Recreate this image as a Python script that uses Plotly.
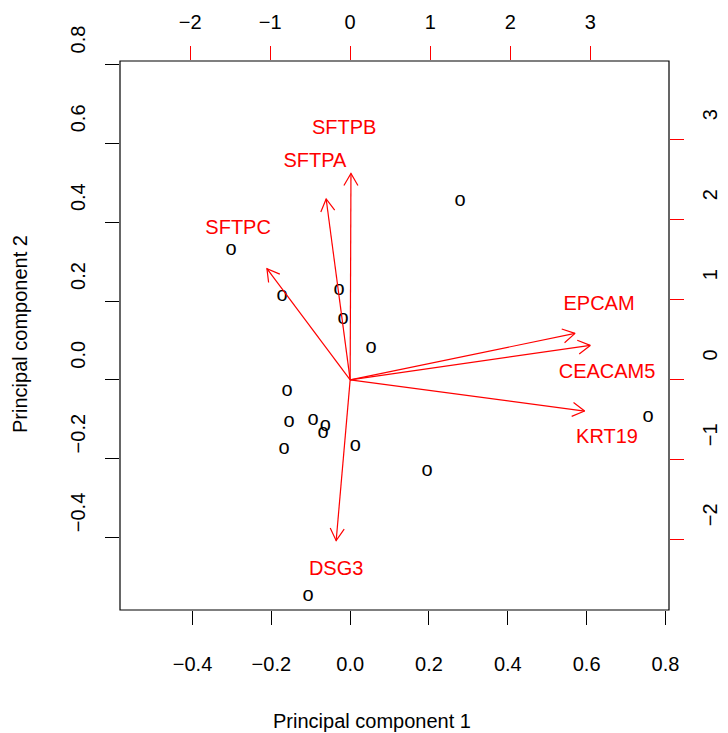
import math
import plotly.graph_objects as go

# ---- observation scores (primary axes: Principal component 1 / 2) ----
pc1 = [-0.302, 0.279, -0.173, -0.028, -0.018, 0.053, -0.160, -0.155,
       -0.094, -0.063, -0.069, -0.168, 0.013, 0.195, 0.756, -0.107]
pc2 = [0.329, 0.453, 0.212, 0.227, 0.154, 0.080, -0.029, -0.108,
       -0.103, -0.118, -0.136, -0.176, -0.169, -0.232, -0.095, -0.549]
obs_labels = ["o"] * len(pc1)

# ---- variable loadings (secondary axes: top / right) ----
var_names = ["SFTPB", "SFTPA", "SFTPC", "EPCAM", "CEACAM5", "KRT19", "DSG3"]
load_x = [0.01, -0.30, -1.04, 2.81, 3.00, 2.93, -0.175]
load_y = [2.58, 2.26, 1.39, 0.58, 0.43, -0.39, -2.01]
label_x = [-0.075, -0.44, -1.40, 3.11, 3.21, 3.21, -0.175]
label_y = [3.13, 2.72, 1.88, 0.93, 0.08, -0.73, -2.38]

# ---- ticks ----
pc_ticks = [-0.4, -0.2, 0.0, 0.2, 0.4, 0.6, 0.8]
pc_ticktext = [("−" if v < 0 else "") + f"{abs(v):.1f}" for v in pc_ticks]
load_ticks = [-2, -1, 0, 1, 2, 3]
load_ticktext = [("−" if v < 0 else "") + str(abs(v)) for v in load_ticks]

lim = [-0.584, 0.809]
ratio = 4.925
lim2 = [lim[0] * ratio, lim[1] * ratio]

FONT = "Liberation Sans, Arial, Helvetica, sans-serif"
RED = "#ff0000"

fig = go.Figure()

# observations drawn as "o" text labels
fig.add_trace(go.Scatter(
    x=pc1, y=pc2, mode="text", text=obs_labels,
    textposition="middle center",
    textfont=dict(family=FONT, size=20, color="black"),
    hoverinfo="skip", showlegend=False,
))

# arrows with open V heads
head = 0.175
ang = math.radians(30)
ax, ay = [], []
for x, y in zip(load_x, load_y):
    ax += [0, x, None]
    ay += [0, y, None]
    a = math.atan2(y, x)
    ax += [x - head * math.cos(a + ang), x, x - head * math.cos(a - ang), None]
    ay += [y - head * math.sin(a + ang), y, y - head * math.sin(a - ang), None]
fig.add_trace(go.Scatter(
    x=ax, y=ay, mode="lines", line=dict(color=RED, width=1.2),
    xaxis="x2", yaxis="y2", hoverinfo="skip", showlegend=False,
))
fig.add_trace(go.Scatter(
    x=label_x, y=label_y, mode="text", text=var_names,
    textposition="middle center",
    textfont=dict(family=FONT, size=20, color=RED),
    xaxis="x2", yaxis="y2", hoverinfo="skip", showlegend=False,
))

common = dict(showgrid=False, zeroline=False, showline=False,
              ticks="outside", ticklen=14, tickwidth=1, automargin=False,
              tickfont=dict(family=FONT, size=20, color="black"))

fig.update_layout(
    width=728, height=733,
    margin=dict(l=112, r=67, t=53, b=131),
    paper_bgcolor="white", plot_bgcolor="white",
    font=dict(family=FONT, size=20, color="black"),
    xaxis=dict(range=lim, tickvals=pc_ticks, ticktext=pc_ticktext,
               tickcolor="black", ticklabelstandoff=22, **common),
    yaxis=dict(range=lim, tickvals=pc_ticks, ticktext=pc_ticktext,
               tickcolor="black", tickangle=-90, ticklabelstandoff=12,
               ticklabelshift=-22, **common),
    xaxis2=dict(range=lim2, overlaying="x", side="top", anchor="y",
                tickvals=load_ticks, ticktext=load_ticktext,
                tickcolor=RED, ticklabelstandoff=9, **common),
    yaxis2=dict(range=lim2, overlaying="y", side="right", anchor="x",
                tickvals=load_ticks, ticktext=load_ticktext,
                tickcolor=RED, tickangle=-90, ticklabelstandoff=9,
                ticklabelshift=-22, **common),
    shapes=[dict(type="rect", xref="paper", yref="paper", x0=0, x1=1,
                 y0=0, y1=1, line=dict(color="black", width=1.2),
                 fillcolor="rgba(0,0,0,0)", layer="above")],
    annotations=[
        dict(text="Principal component 1", xref="paper", yref="paper",
             x=(364 - 112) / 549, y=(602 - 713) / 549, showarrow=False,
             xanchor="center", yanchor="middle",
             font=dict(family=FONT, size=20, color="black")),
        dict(text="Principal component 2", xref="paper", yref="paper",
             x=(12 - 112) / 549, y=(602 - 326) / 549, showarrow=False,
             textangle=-90, xanchor="center", yanchor="middle",
             font=dict(family=FONT, size=20, color="black")),
    ],
)

fig.write_html("out.html")
